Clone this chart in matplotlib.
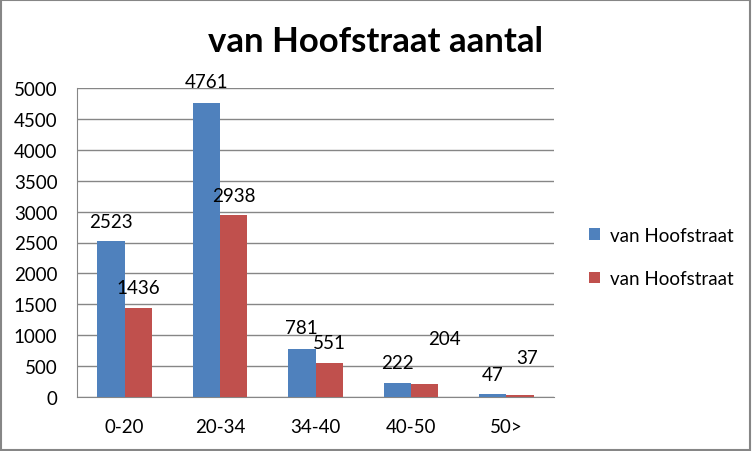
import numpy as np
import matplotlib
matplotlib.use('Agg')
import matplotlib.pyplot as plt
from matplotlib.patches import Rectangle

# data
categories = ['0-20', '20-34', '34-40', '40-50', '50>']
series1 = [2523, 4761, 781, 222, 47]
series2 = [1436, 2938, 551, 204, 37]
series_names = ['van Hoofstraat', 'van Hoofstraat']
title = 'van Hoofstraat aantal'

blue = '#4f81bd'
red = '#c0504d'
fs = 13.5
plt.rcParams['font.family'] = ['Lato', 'DejaVu Sans']

fig = plt.figure(figsize=(7.52, 4.52), dpi=100)
fig.patch.set_facecolor('white')
fig.patches.append(Rectangle((0.001, 0.002), 0.997, 0.995, transform=fig.transFigure,
                             fill=False, edgecolor='#868686', linewidth=1.5))

ax = fig.add_axes([77/752, 1 - 398/452, (554-77)/752, (398-89)/452])
x = np.arange(len(categories))
w = 1/3.5
b1 = ax.bar(x - w/2, series1, w, color=blue, label=series_names[0], zorder=3)
b2 = ax.bar(x + w/2, series2, w, color=red, label=series_names[1], zorder=3)

ax.set_xlim(-0.5, len(categories) - 0.5)
ax.set_ylim(0, 5000)
ax.set_yticks(np.arange(0, 5001, 500))
ax.set_xticks(x)
ax.set_xticklabels(categories)
ax.yaxis.grid(True, color='#868686', linewidth=1, zorder=0)
ax.tick_params(axis='both', length=0, labelsize=fs)
ax.tick_params(axis='x', pad=15)
ax.tick_params(axis='y', pad=14)
for s in ['top', 'right']:
    ax.spines[s].set_visible(False)
for s in ['left', 'bottom']:
    ax.spines[s].set_color('#868686')

# data labels (offsets in points, as placed in the original)
off1 = [(0, 14), (0, 15), (0, 15), (0, 15), (0, 14)]
off2 = [(0, 15), (0, 14), (0, 15), (14, 33), (5, 27)]
for xi, v, o in zip(x - w/2, series1, off1):
    ax.annotate(str(v), (xi, v), xytext=o, textcoords='offset points',
                ha='center', va='center', fontsize=fs)
for xi, v, o in zip(x + w/2, series2, off2):
    ax.annotate(str(v), (xi, v), xytext=o, textcoords='offset points',
                ha='center', va='center', fontsize=fs)

fig.text(376/752, 1 - 42/452, title, ha='center', va='center',
         fontsize=25, fontweight='bold')

fig.legend(handles=[b1, b2], loc='center left', bbox_to_anchor=(572/752, 1 - 258/452),
           frameon=False, fontsize=fs, handlelength=0.6, handleheight=0.6,
           handletextpad=0.5, labelspacing=1.4)

fig.savefig('out.png', dpi=100)
